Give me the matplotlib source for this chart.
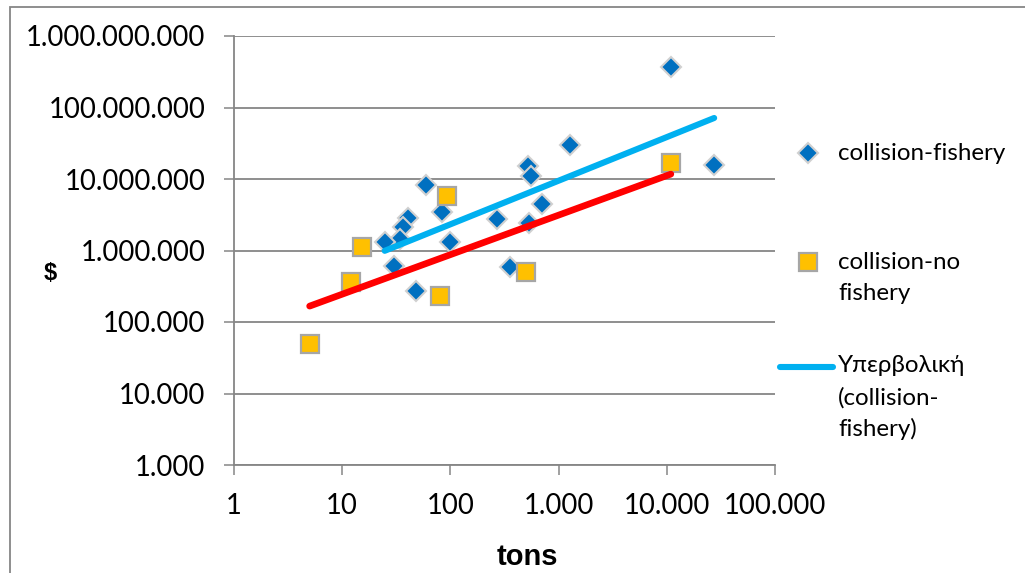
import matplotlib
matplotlib.use("Agg")
import matplotlib.pyplot as plt
from matplotlib.lines import Line2D
from matplotlib.patches import Rectangle
from matplotlib.ticker import FixedLocator, NullLocator
import numpy as np

# --- data -------------------------------------------------------------
fishery_tons = [59.7, 84, 40.3, 36.6, 34, 24.7, 99, 30, 48.5,
                10900, 1282, 27400, 521, 560, 703, 270, 528, 358]
fishery_cost = [8.2e6, 3.45e6, 2.85e6, 2.1e6, 1.45e6, 1.3e6, 1.3e6, 6.1e5, 2.75e5,
                3.65e8, 3.0e7, 1.56e7, 1.52e7, 1.1e7, 4.5e6, 2.8e6, 2.4e6, 5.8e5]

nofishery_tons = [93, 15.1, 12.1, 79.7, 5.0, 500, 10900]
nofishery_cost = [5.8e6, 1.13e6, 3.66e5, 2.33e5, 4.9e4, 4.95e5, 1.66e7]

# power trend lines  y = a * x**b
fishery_trend = (1.40e5, 0.61)
nofishery_trend = (6.85e4, 0.553)

x_ticks = [1, 10, 100, 1000, 10000, 100000]
x_tick_labels = ["1", "10", "100", "1.000", "10.000", "100.000"]
y_ticks = [1e3, 1e4, 1e5, 1e6, 1e7, 1e8, 1e9]
y_tick_labels = ["1.000", "10.000", "100.000", "1.000.000",
                 "10.000.000", "100.000.000", "1.000.000.000"]

legend_labels = ["collision-fishery", "collision-no\nfishery",
                 "Υπερβολική\n(collision-\nfishery)"]

# --- style ------------------------------------------------------------
FONT = ["Lato", "DejaVu Sans"]
GRID = "#868686"
BLUE_MK = "#0070C0"
GOLD_MK = "#FFC000"
CYAN = "#00B0F0"
RED = "#FF0000"

W, H = 1025, 573
fig = plt.figure(figsize=(W / 100, H / 100), dpi=100)
fig.patch.set_facecolor("white")

# outer chart frame (runs off the right and bottom edges)
fig.add_artist(Rectangle((9.5 / W, -0.1), 1.2, 1 - 7.5 / H + 0.1,
                         transform=fig.transFigure, fill=False,
                         edgecolor=GRID, linewidth=1.3))

ax = fig.add_axes([234 / W, 1 - 465 / H, (775 - 234) / W, (465 - 36) / H])
ax.set_xscale("log")
ax.set_yscale("log")
ax.set_xlim(1, 1e5)
ax.set_ylim(1e3, 1e9)

ax.xaxis.set_major_locator(FixedLocator(x_ticks))
ax.yaxis.set_major_locator(FixedLocator(y_ticks))
ax.xaxis.set_minor_locator(NullLocator())
ax.yaxis.set_minor_locator(NullLocator())
ax.set_xticklabels(x_tick_labels, fontsize=19.8, family=FONT)
ax.set_yticklabels(y_tick_labels, fontsize=19.8, family=FONT)
ax.tick_params(axis="both", which="major", direction="out", length=7.5,
               width=1.1, color=GRID)
ax.tick_params(axis="x", pad=13)
ax.tick_params(axis="y", pad=13)

for side in ("top", "right"):
    ax.spines[side].set_visible(False)
for side in ("left", "bottom"):
    ax.spines[side].set_color(GRID)
    ax.spines[side].set_linewidth(1.3)

ax.grid(True, axis="y", color=GRID, linewidth=1.3)
ax.set_axisbelow(True)

DIAMOND = dict(marker="D", markersize=9.8, markerfacecolor=BLUE_MK,
               markeredgecolor="#D0D0D0", markeredgewidth=1.5)
SQUARE = dict(marker="s", markersize=13.2, markerfacecolor=GOLD_MK,
              markeredgecolor="#A6A6A6", markeredgewidth=1.6)

# scatter series
ax.plot(fishery_tons, fishery_cost, linestyle="none", zorder=3,
        clip_on=False, **DIAMOND)
ax.plot(nofishery_tons, nofishery_cost, linestyle="none", zorder=4,
        clip_on=False, **SQUARE)

# trend lines spanning each series' x range
def trend(xs, coef):
    a, b = coef
    xx = np.array([min(xs), max(xs)])
    return xx, a * xx ** b

tx, ty = trend(fishery_tons, fishery_trend)
ax.plot(tx, ty, color=CYAN, linewidth=4.4, solid_capstyle="round", zorder=5)
rx, ry = trend(nofishery_tons, nofishery_trend)
ax.plot(rx, ry, color=RED, linewidth=4.8, solid_capstyle="round", zorder=5)

# axis titles
fig.text(50 / W, 1 - 273 / H, "$", fontsize=17, fontweight="bold",
         family=["Liberation Sans", "DejaVu Sans"], ha="center", va="center")
fig.text(527 / W, 1 - 557 / H, "tons", fontsize=21, fontweight="bold",
         family=["Liberation Sans", "DejaVu Sans"], ha="center", va="center")

# legend entries
def fx(px):
    return px / W

def fy(py):
    return 1 - py / H

fig.add_artist(Line2D([fx(808)], [fy(153)], transform=fig.transFigure,
                      **DIAMOND))
fig.add_artist(Line2D([fx(808)], [fy(262)], transform=fig.transFigure,
                      **SQUARE))
fig.add_artist(Line2D([fx(780), fx(833)], [fy(367), fy(367)], color=CYAN,
                      linewidth=4.4, solid_capstyle="round",
                      transform=fig.transFigure))

entry_tops = [153, 262, 366]
line_step = 31.5
for label, top in zip(legend_labels, entry_tops):
    for i, part in enumerate(label.split("\n")):
        fig.text(fx(838), fy(top + i * line_step), part, fontsize=17.4,
                 family=FONT, ha="left", va="center")

fig.savefig("out.png", dpi=100, facecolor="white")
